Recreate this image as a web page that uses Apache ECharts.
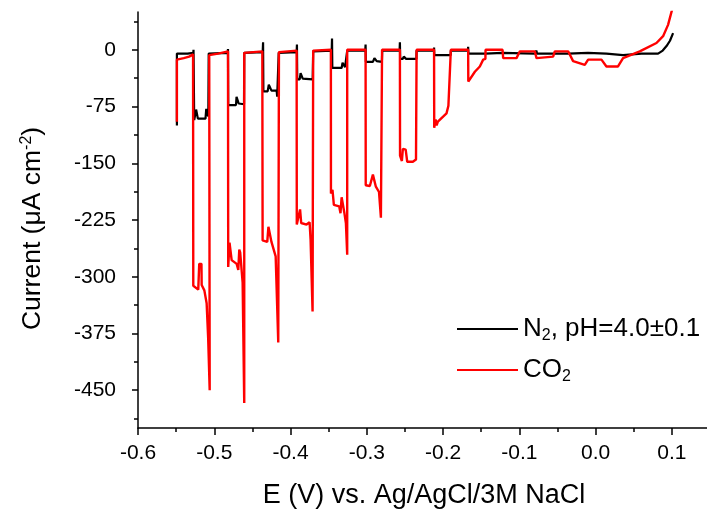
<!DOCTYPE html>
<html>
<head>
<meta charset="utf-8">
<script src="https://cdn.jsdelivr.net/npm/echarts@6/dist/echarts.min.js"></script>
<style>
  html, body { margin: 0; padding: 0; background: #fff; }
  #chart { width: 707px; height: 510px; }
</style>
</head>
<body>
<div id="chart"></div>
<script>
// chopped-light LSV, N2 vs CO2
var xTicks = [-0.6, -0.5, -0.4, -0.3, -0.2, -0.1, 0.0, 0.1];
var xMinorTicks = [-0.55, -0.45, -0.35, -0.25, -0.15, -0.05, 0.05];
var yTicks = [-450, -375, -300, -225, -150, -75, 0];
var yMinorTicks = [-487.5, -412.5, -337.5, -262.5, -187.5, -112.5, -37.5, 37.5];

var n2Potential = [
  -0.549, -0.549, -0.535, -0.5275, -0.5272, -0.5263, -0.5245, -0.5238, -0.5222, -0.5215,
  -0.5115, -0.5105, -0.5085, -0.5078, -0.5073, -0.4825, -0.482, -0.4817, -0.4715, -0.4708,
  -0.469, -0.468, -0.461, -0.4607, -0.4365, -0.436, -0.4356, -0.43, -0.4285, -0.4265,
  -0.425, -0.4182, -0.4175, -0.416, -0.4155, -0.392, -0.3916, -0.3912, -0.388, -0.3868,
  -0.385, -0.384, -0.371, -0.3703, -0.346, -0.3456, -0.3452, -0.333, -0.3318, -0.3295,
  -0.3285, -0.3262, -0.3257, -0.302, -0.3016, -0.3012, -0.292, -0.29, -0.288, -0.287,
  -0.2802, -0.2798, -0.257, -0.2566, -0.2562, -0.253, -0.2515, -0.2495, -0.2485, -0.235,
  -0.2347, -0.212, -0.2118, -0.2115, -0.19, -0.1898, -0.1675, -0.1671, -0.1668, -0.1443,
  -0.122, -0.08, -0.0775, -0.077, -0.036, -0.01, 0.0142, 0.036, 0.06, 0.0819,
  0.088, 0.093, 0.0975, 0.1016
];
var n2Current = [
  -100, -5, -5, -4, 0, -93, -92, -79, -79, -91,
  -91, -78, -78, -88, -5, -4, 1, -73, -73, -62,
  -62, -71, -72, -4, -3, 10, -55, -55, -46, -46,
  -54, -54, -62, -60, -4, -3, 7, -39, -39, -31,
  -31, -38, -39, -2, -1, 15, -24, -24, -17, -17,
  -23, -24, -1, -1, 7, -16, -16, -11, -11, -15,
  -16, -1, -1, 10, -12, -12, -9, -9, -12, -12,
  -1, -1, 3, -7, -7, -1, -1, 4, -5, -5,
  -4, -5, -1, -5, -5, -4, -5, -7, -5, -5,
  -1, 5, 12, 22
];

var co2Potential = [
  -0.549, -0.549, -0.54, -0.533, -0.5278, -0.5275, -0.521, -0.52, -0.5197, -0.5168,
  -0.5165, -0.513, -0.51, -0.508, -0.506, -0.5066, -0.495, -0.482, -0.4817, -0.48,
  -0.4785, -0.4772, -0.4706, -0.4685, -0.4672, -0.466, -0.4628, -0.4607, -0.4607, -0.437,
  -0.4366, -0.4305, -0.429, -0.4275, -0.425, -0.4195, -0.4161, -0.4152, -0.392, -0.3918,
  -0.3875, -0.386, -0.379, -0.375, -0.3737, -0.3711, -0.3703, -0.3471, -0.347, -0.345,
  -0.3432, -0.3362, -0.3345, -0.333, -0.3295, -0.3274, -0.3257, -0.3257, -0.3016, -0.3014,
  -0.296, -0.292, -0.2881, -0.284, -0.2815, -0.28, -0.2566, -0.2564, -0.254, -0.2527,
  -0.249, -0.247, -0.2396, -0.2355, -0.2347, -0.2118, -0.2116, -0.2098, -0.2085, -0.2068,
  -0.2042, -0.1955, -0.193, -0.1905, -0.1898, -0.1671, -0.1669, -0.1583, -0.1518, -0.1474,
  -0.1445, -0.1443, -0.122, -0.1212, -0.1037, -0.0993, -0.0797, -0.0775, -0.0557, -0.0535,
  -0.036, -0.0295, -0.0142, -0.0098, 0.0077, 0.0142, 0.0294, 0.036, 0.0579, 0.0798,
  0.0885, 0.095, 0.1008
];
var co2Current = [
  -95, -13, -11, -9, -6, -312, -317, -317, -283, -283,
  -311, -318, -335, -381, -450, -7, -5, -2, -287, -255,
  -255, -278, -283, -291, -264, -268, -308, -467, -4, -2,
  -252, -254, -234, -234, -254, -273, -387, -3, -1, -231,
  -211, -229, -231, -228, -251, -346, -1, 0, -190, -185,
  -205, -207, -216, -195, -215, -229, -271, 0, 0, -179,
  -180, -165, -181, -188, -222, 0, 0, -140, -147, -131,
  -132, -148, -148, -145, 0, 0, -103, -92, -100, -95,
  -96, -84, -74, -72, 0, 0, -42, -29, -22, -13,
  -12, 0, 0, -11, -11, -2, -2, -11, -9, -2,
  -2, -15, -20, -13, -13, -22, -22, -11, -2, 9,
  18, 33, 55
];

function zip(xs, ys) {
  var out = [];
  for (var i = 0; i < xs.length; i++) out.push([xs[i], ys[i]]);
  return out;
}

var FONT = 'Liberation Sans';
var chart = echarts.init(document.getElementById('chart'), null, { renderer: 'canvas' });

var axisLineStyle = { color: '#000', width: 1.5 };

chart.setOption({
  backgroundColor: '#fff',
  animation: false,
  grid: { left: 138, top: 12, right: -3, bottom: 82, containLabel: false, outerBoundsMode: 'none' },
  legend: {
    orient: 'vertical',
    left: 452,
    top: 309,
    itemWidth: 61,
    itemHeight: 2,
    itemGap: 11,
    icon: 'rect',
    data: ['N2, pH=4.0±0.1', 'CO2'],
    formatter: function (name) {
      if (name === 'CO2') return 'CO{sub|2}';
      return 'N{sub|2}, pH=4.0±0.1';
    },
    textStyle: {
      fontFamily: FONT,
      fontSize: 26,
      color: '#000',
      lineHeight: 30,
      rich: {
        sub: { fontFamily: FONT, fontSize: 16, color: '#000', verticalAlign: 'bottom', lineHeight: 30, padding: [14, 0, 0, 0] }
      }
    }
  },
  xAxis: [{
    type: 'value',
    min: -0.6,
    max: 0.15,
    position: 'bottom',
    name: 'E (V) vs. Ag/AgCl/3M NaCl',
    nameLocation: 'middle',
    nameGap: 54,
    nameTextStyle: { fontFamily: FONT, fontSize: 27, color: '#000' },
    axisLine: { show: true, onZero: false, lineStyle: axisLineStyle },
    axisTick: { show: true, length: 7, customValues: xTicks, lineStyle: axisLineStyle },
    axisLabel: {
      customValues: xTicks,
      fontFamily: FONT, fontSize: 21, color: '#000', margin: 15,
      formatter: function (v) { return v.toFixed(1); }
    },
    splitLine: { show: false }
  }, {
    type: 'value',
    min: -0.6,
    max: 0.15,
    position: 'bottom',
    axisLine: { show: false, onZero: false },
    axisTick: { show: true, length: 4, customValues: xMinorTicks, lineStyle: axisLineStyle },
    axisLabel: { show: false },
    splitLine: { show: false }
  }],
  yAxis: [{
    type: 'value',
    min: -500,
    max: 50,
    position: 'left',
    name: 'Current (μA cm{sup|-2})',
    nameLocation: 'middle',
    nameGap: 91,
    nameTextStyle: {
      fontFamily: FONT, fontSize: 26.5, color: '#000',
      padding: [0, 17, 0, 0],
      rich: { sup: { fontFamily: FONT, fontSize: 16, color: '#000', verticalAlign: 'top', padding: [0, 0, 12, 0] } }
    },
    axisLine: { show: true, onZero: false, lineStyle: axisLineStyle },
    axisTick: { show: true, length: 6, customValues: yTicks, lineStyle: axisLineStyle },
    axisLabel: { customValues: yTicks, fontFamily: FONT, fontSize: 21, color: '#000', margin: 22 },
    splitLine: { show: false }
  }, {
    type: 'value',
    min: -500,
    max: 50,
    position: 'left',
    axisLine: { show: false, onZero: false },
    axisTick: { show: true, length: 4, customValues: yMinorTicks, lineStyle: axisLineStyle },
    axisLabel: { show: false },
    splitLine: { show: false }
  }],
  series: [{
    name: 'N2, pH=4.0±0.1',
    type: 'line',
    data: zip(n2Potential, n2Current),
    showSymbol: false,
    symbol: 'none',
    clip: true,
    color: '#000',
    lineStyle: { color: '#000', width: 2.2 }
  }, {
    name: 'CO2',
    type: 'line',
    data: zip(co2Potential, co2Current),
    showSymbol: false,
    symbol: 'none',
    clip: true,
    color: '#ff0000',
    lineStyle: { color: '#ff0000', width: 2.4 }
  }]
});
</script>
</body>
</html>
